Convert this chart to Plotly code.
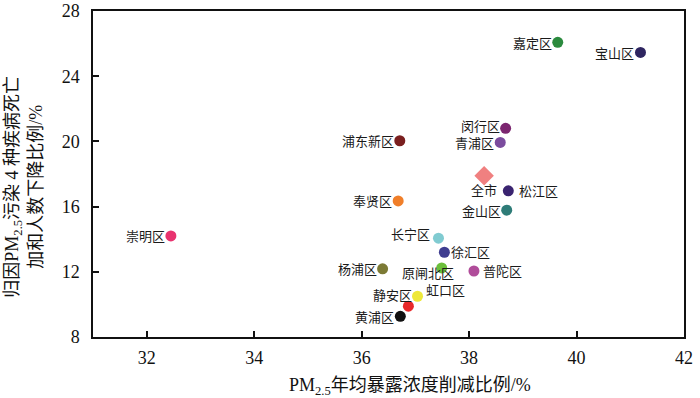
import plotly.graph_objects as go

districts = ["崇明区", "浦东新区", "奉贤区", "杨浦区", "黄浦区", "静安区", "虹口区",
             "原闸北区", "长宁区", "徐汇区", "普陀区", "松江区", "金山区", "闵行区",
             "青浦区", "嘉定区", "宝山区"]
pm_reduction = [32.45, 36.71, 36.68, 36.39, 36.72, 37.04, 36.87,
                37.49, 37.43, 37.54, 38.09, 38.73, 38.70, 38.68,
                38.58, 39.65, 41.19]
death_reduction = [14.2, 20.04, 16.35, 12.18, 9.27, 10.5, 9.89,
                   12.24, 14.06, 13.2, 12.05, 16.97, 15.78, 20.8,
                   19.94, 26.08, 25.46]
colors = ["#E8336F", "#7A1F1F", "#F07F2A", "#7C7A35", "#111111", "#EEE83A", "#E8282A",
          "#6CBF3A", "#80CBD1", "#3F3D90", "#B04C9A", "#3A2470", "#2E7C78", "#7C2670",
          "#7B4C9E", "#2B8A3E", "#2E2560"]

city_name = "全市"
city_x = 38.28
city_y = 17.89

x_ticks = [32, 34, 36, 38, 40, 42]
y_ticks = [8, 12, 16, 20, 24, 28]

# label placement: (xanchor, xshift, yshift)
label_pos = {
    "崇明区": ("right", -4, 0), "浦东新区": ("right", -4, 0), "奉贤区": ("right", -4, 0),
    "杨浦区": ("right", -4, 0), "黄浦区": ("right", -4, 0), "静安区": ("right", -4, 2),
    "虹口区": ("left", 16, 17), "原闸北区": ("center", -14, -5), "长宁区": ("right", -6, 5),
    "徐汇区": ("left", 5, 1), "普陀区": ("left", 7, 0), "松江区": ("left", 9, 0),
    "金山区": ("right", -4, 0), "闵行区": ("right", -4, 3), "青浦区": ("right", -4, 0),
    "嘉定区": ("right", -4, 0), "宝山区": ("right", -4, 0),
}

serif = "'Liberation Serif', 'Times New Roman', 'Noto Sans CJK SC'"
cjk = "'Noto Sans CJK SC', 'Liberation Serif'"

fig = go.Figure()
fig.add_trace(go.Scatter(
    x=pm_reduction, y=death_reduction, mode="markers",
    marker=dict(size=11, color=colors, line=dict(width=0)),
    hovertext=districts, showlegend=False))
fig.add_trace(go.Scatter(
    x=[city_x], y=[city_y], mode="markers",
    marker=dict(size=15, symbol="diamond", color="#F08080", line=dict(width=0)),
    hovertext=[city_name], showlegend=False))

annotations = []
for name, xv, yv in zip(districts, pm_reduction, death_reduction):
    anc, xs, ys = label_pos[name]
    annotations.append(dict(x=xv, y=yv, xref="x", yref="y", text=name, showarrow=False,
                            xanchor=anc, yanchor="middle", xshift=xs, yshift=ys,
                            font=dict(family=cjk, size=13, color="#1a1a1a")))
annotations.append(dict(x=city_x, y=city_y, xref="x", yref="y", text=city_name, showarrow=False,
                        xanchor="center", yanchor="middle", xshift=0, yshift=-14,
                        font=dict(family=cjk, size=13, color="#1a1a1a")))
annotations.append(dict(x=0.5365, y=0, xref="paper", yref="paper",
                        text="PM<sub>2.5</sub>年均暴露浓度削减比例/%", showarrow=False,
                        xanchor="center", yanchor="middle", yshift=-49,
                        font=dict(family=serif, size=18, color="#111111")))
annotations.append(dict(x=0, y=0.4596, xref="paper", yref="paper",
                        text="归因PM<sub>2.5</sub>污染 4 种疾病死亡<br>加和人数下降比例/%",
                        showarrow=False, textangle=-90, xanchor="center", yanchor="middle",
                        xshift=-69.5,
                        font=dict(family=serif, size=18, color="#111111")))

axis_common = dict(showgrid=False, zeroline=False, showline=True, linecolor="#111111",
                   linewidth=1.5, mirror=True, ticks="inside", ticklen=6, tickwidth=1.5,
                   tickcolor="#111111", automargin=False,
                   tickfont=dict(family=serif, size=18, color="#111111"))

fig.update_layout(
    width=700, height=398,
    margin=dict(l=92.5, r=15.7, t=11, b=61.3),
    paper_bgcolor="white", plot_bgcolor="white",
    xaxis=dict(range=[31, 42], tickvals=x_ticks, ticklabelstandoff=4, **axis_common),
    yaxis=dict(range=[8, 28], tickvals=y_ticks, ticklabelstandoff=8, **axis_common),
    annotations=annotations,
)

# remove the browser's default 8px page margin so the figure fills the window
fig.write_html("out.html", config={"displayModeBar": False},
               post_script="document.body.style.margin='0px';")
